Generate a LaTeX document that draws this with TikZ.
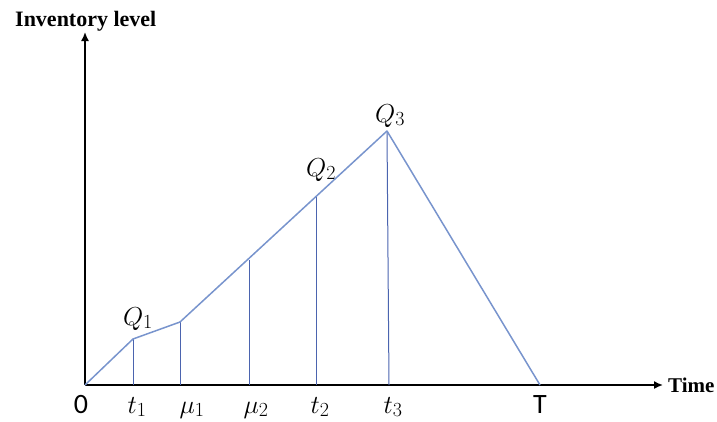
\RequirePackage{fix-cm}
\documentclass[tikz,border=0pt]{standalone}
\usepackage{fontspec}
\setmainfont{Liberation Serif}
\newfontfamily\calfont{Carlito}
\DeclareMathSizes{26}{26}{20}{15}
\usetikzlibrary{arrows.meta}
\definecolor{lineblue}{RGB}{120,148,205}
\definecolor{vblue}{RGB}{75,100,175}
\tikzset{
  curve/.style={draw=lineblue, line width=1.5pt, line join=round},
  vline/.style={draw=vblue, line width=1pt},
  axis/.style={draw=black, line width=1.6pt, -{Latex[length=9pt,width=8pt]}},
  ticklab/.style={font=\fontsize{26}{30}\selectfont, inner sep=0pt, anchor=base},
  qlab/.style={font=\fontsize{26}{30}\selectfont, inner sep=0pt, anchor=base},
  axlab/.style={font=\bfseries\fontsize{22}{26}\selectfont, inner sep=0pt, anchor=base west}
}
\begin{document}
\begin{tikzpicture}[x=1pt,y=-1pt]
\useasboundingbox (0,0) rectangle (717,421);
% axes
\coordinate (O) at (85,385);
\coordinate (ytop) at (85,32);
\coordinate (xend) at (663,385);
\draw[axis] (O) -- (ytop);
\draw[axis] (O) -- (xend);
\node[axlab] (inv) at (15,26) {Inventory level};
\node[axlab, font=\bfseries\fontsize{21}{25}\selectfont] (time) at (668,392) {Time};
% points
\coordinate (P1) at (133,339);
\coordinate (P2) at (180,322);
\coordinate (P3) at (249,260);
\coordinate (P4) at (316,197);
\coordinate (P5) at (387,131);
\coordinate (PT) at (540,385);
\coordinate (B1) at (133,385);
\coordinate (B2) at (180,385);
\coordinate (B3) at (249,385);
\coordinate (B4) at (316,385);
\coordinate (B5) at (389,385);
% verticals
\draw[vline] (P1) -- (B1);
\draw[vline] (P2) -- (B2);
\draw[vline] (P3) -- (B3);
\draw[vline] (P4) -- (B4);
\draw[vline] (P5) -- (B5);
% curve
\draw[curve] (O) -- (P1) -- (P2) -- (P5) -- (PT);
% labels
\node[qlab] (q1) at (138,325) {$Q_1$};
\node[qlab] (q2) at (321,176) {$Q_2$};
\node[qlab] (q3) at (390,122) {$Q_3$};
\node[ticklab, font=\calfont\fontsize{28}{32}\selectfont] (l0) at (81,413) {0};
\node[ticklab] (l1) at (137,413) {$t_1$};
\node[ticklab] (l2) at (192,413) {$\mu_1$};
\node[ticklab] (l3) at (256,413) {$\mu_2$};
\node[ticklab] (l4) at (320,413) {$t_2$};
\node[ticklab] (l5) at (393,413) {$t_3$};
\node[ticklab, font=\calfont\fontsize{28}{32}\selectfont] (lT) at (540,413) {T};
\end{tikzpicture}
\end{document}
